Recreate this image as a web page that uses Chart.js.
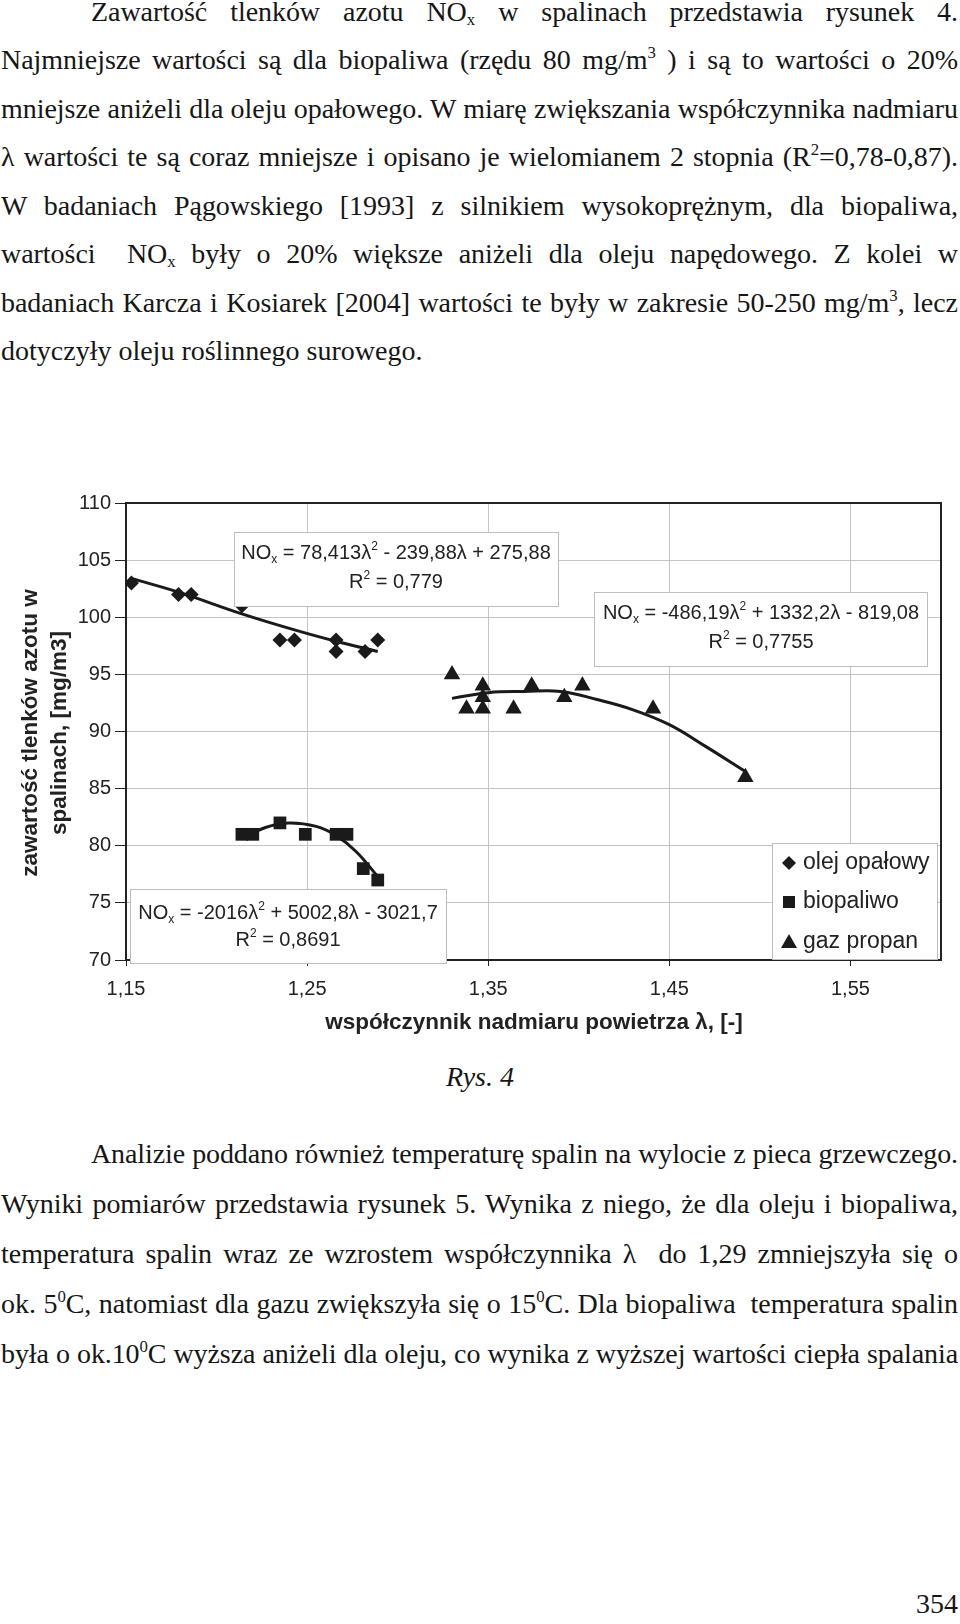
<!DOCTYPE html>
<html>
<head>
<meta charset="utf-8">
<script src="https://cdn.jsdelivr.net/npm/chart.js@4"></script>
<style>
  html, body { margin: 0; padding: 0; background: #fff; }
  body { width: 960px; height: 1624px; position: relative; overflow: hidden; }
  .ln {
    position: absolute; font-family: "Liberation Serif", serif; font-size: 28px;
    line-height: 30px; color: #161616; text-align: justify; text-align-last: justify;
  }
  .ln.left { text-align: left; text-align-last: left; }
  .ln sup { font-size: 0.6em; vertical-align: 0; position: relative; top: -0.65em; line-height: 0; }
  .ln sub { font-size: 0.6em; vertical-align: 0; position: relative; top: 0.25em; line-height: 0; }
  #noxChart { position: absolute; left: 0; top: 470px; }
</style>
</head>
<body>

<div class="ln" style="left:91px;width:867px;top:-3px">Zawartość tlenków azotu NO<sub>x</sub> w spalinach przedstawia rysunek 4.</div>
<div class="ln" style="left:1px;width:957px;top:45px">Najmniejsze wartości są dla biopaliwa (rzędu 80 mg/m<sup>3</sup> ) i są to wartości o 20%</div>
<div class="ln" style="left:1px;width:957px;top:94px">mniejsze aniżeli dla oleju opałowego. W miarę zwiększania współczynnika nadmiaru</div>
<div class="ln" style="left:1px;width:957px;top:142px">λ wartości te są coraz mniejsze i opisano je wielomianem 2 stopnia (R<sup>2</sup>=0,78-0,87).</div>
<div class="ln" style="left:1px;width:957px;top:191px">W badaniach Pągowskiego [1993] z silnikiem wysokoprężnym, dla biopaliwa,</div>
<div class="ln" style="left:1px;width:957px;top:239px">wartości &nbsp;NO<sub>x</sub> były o 20% większe aniżeli dla oleju napędowego. Z kolei w</div>
<div class="ln" style="left:1px;width:957px;top:288px">badaniach Karcza i Kosiarek [2004] wartości te były w zakresie 50-250 mg/m<sup>3</sup>, lecz</div>
<div class="ln left" style="left:1px;width:957px;top:336px">dotyczyły oleju roślinnego surowego.</div>

<canvas id="noxChart" width="960" height="580"></canvas>

<div class="ln left" style="left:0;width:960px;top:1062px;text-align:center;text-align-last:center;font-style:italic">Rys. 4</div>
<div class="ln" style="left:91px;width:867px;top:1139px">Analizie poddano również temperaturę spalin na wylocie z pieca grzewczego.</div>
<div class="ln" style="left:1px;width:957px;top:1189px">Wyniki pomiarów przedstawia rysunek 5. Wynika z niego, że dla oleju i biopaliwa,</div>
<div class="ln" style="left:1px;width:957px;top:1239px">temperatura spalin wraz ze wzrostem współczynnika λ &nbsp;do 1,29 zmniejszyła się o</div>
<div class="ln" style="left:1px;width:957px;top:1289px">ok. 5<sup>0</sup>C, natomiast dla gazu zwiększyła się o 15<sup>0</sup>C. Dla biopaliwa &nbsp;temperatura spalin</div>
<div class="ln" style="left:1px;width:957px;top:1339px">była o ok.10<sup>0</sup>C wyższa aniżeli dla oleju, co wynika z wyższej wartości ciepła spalania</div>
<div class="ln left" style="left:880px;width:78px;top:1589px;text-align:right;text-align-last:right">354</div>

<script>
// measured points - olej opałowy (diamonds)
const olejX = [1.153, 1.179, 1.186, 1.214, 1.235, 1.243, 1.266, 1.266, 1.282, 1.289];
const olejY = [103, 102, 102, 101, 98, 98, 98, 97, 97, 98];

// biopaliwo (squares)
const bioX = [1.214, 1.220, 1.235, 1.249, 1.266, 1.272, 1.281, 1.289];
const bioY = [81, 81, 82, 81, 81, 81, 78, 77];

// gaz propan (triangles)
const gazX = [1.330, 1.338, 1.347, 1.347, 1.347, 1.364, 1.374, 1.392, 1.402, 1.441, 1.492];
const gazY = [95, 92, 94, 93, 92, 92, 94, 93, 94, 92, 86];

// trend lines
const olejTrendX = [1.153, 1.179, 1.214, 1.243, 1.266, 1.289];
const olejTrendY = [103.4, 102.2, 100.3, 98.9, 97.9, 97.0];
const bioTrendX = [1.214, 1.227, 1.240, 1.255, 1.266, 1.277, 1.289];
const bioTrendY = [80.6, 81.6, 82.0, 81.7, 80.9, 79.5, 77.3];
const gazTrendX = [1.330, 1.350, 1.370, 1.390, 1.410, 1.430, 1.450, 1.470, 1.492];
const gazTrendY = [92.9, 93.4, 93.5, 93.5, 92.8, 91.9, 90.6, 88.7, 86.5];

const seriesNames = ["olej opałowy", "biopaliwo", "gaz propan"];
const xTickValues = [1.15, 1.25, 1.35, 1.45, 1.55];
const xTickLabels = ["1,15", "1,25", "1,35", "1,45", "1,55"];

const eqOlej = ["NO_x = 78,413λ^2 - 239,88λ + 275,88", "R^2 = 0,779"];
const eqGaz = ["NO_x = -486,19λ^2 + 1332,2λ - 819,08", "R^2 = 0,7755"];
const eqBio = ["NO_x = -2016λ^2 + 5002,8λ - 3021,7", "R^2 = 0,8691"];

const yTitle = ["zawartość tlenków azotu w", "spalinach, [mg/m3]"];
const xTitle = "współczynnik nadmiaru powietrza λ, [-]";

// fit page lines so they justify on one line
document.querySelectorAll(".ln").forEach(el => {
  const target = el.clientWidth;
  const s = document.createElement("span");
  s.style.whiteSpace = "nowrap";
  s.innerHTML = el.innerHTML;
  el.innerHTML = "";
  el.appendChild(s);
  const nat = s.getBoundingClientRect().width;
  if (nat > target - 2) {
    el.style.letterSpacing = ((target - 3 - nat) / s.textContent.length) + "px";
  }
  el.innerHTML = s.innerHTML;
});

const INK = "#1a1a1a";
const SANS = '"Liberation Sans", Arial, sans-serif';

function toPoints(xs, ys) {
  return xs.map((x, i) => ({ x: x, y: ys[i] }));
}

function richSegments(str) {
  const segs = [];
  let buf = "";
  for (let i = 0; i < str.length; i++) {
    const c = str[i];
    if ((c === "_" || c === "^") && i + 1 < str.length) {
      if (buf) segs.push({ t: buf });
      buf = "";
      segs.push({ t: str[i + 1], mode: c });
      i++;
    } else {
      buf += c;
    }
  }
  if (buf) segs.push({ t: buf });
  return segs;
}

function drawRich(ctx, str, cx, cy, size) {
  const segs = richSegments(str);
  const small = Math.round(size * 0.62);
  let total = 0;
  segs.forEach(s => {
    ctx.font = (s.mode ? small : size) + "px " + SANS;
    s.w = ctx.measureText(s.t).width;
    total += s.w;
  });
  let x = cx - total / 2;
  ctx.textAlign = "left";
  ctx.textBaseline = "middle";
  segs.forEach(s => {
    ctx.font = (s.mode ? small : size) + "px " + SANS;
    const dy = s.mode === "_" ? size * 0.32 : s.mode === "^" ? -size * 0.3 : 0;
    ctx.fillText(s.t, x, cy + dy);
    x += s.w;
  });
}

function drawBox(ctx, x, y, w, h) {
  ctx.fillStyle = "#fff";
  ctx.fillRect(x, y, w, h);
  ctx.strokeStyle = "#bdbdbd";
  ctx.lineWidth = 1;
  ctx.strokeRect(x + 0.5, y + 0.5, w, h);
}

function marker(ctx, kind, x, y) {
  ctx.fillStyle = INK;
  ctx.beginPath();
  if (kind === 0) {
    ctx.moveTo(x, y - 7); ctx.lineTo(x + 7, y); ctx.lineTo(x, y + 7); ctx.lineTo(x - 7, y);
  } else if (kind === 1) {
    ctx.rect(x - 6, y - 6, 12, 12);
  } else {
    ctx.moveTo(x, y - 8); ctx.lineTo(x + 8, y + 6); ctx.lineTo(x - 8, y + 6);
  }
  ctx.closePath();
  ctx.fill();
}

const extrasPlugin = {
  id: "extras",
  beforeDatasetsDraw(chart) {
    const { ctx, chartArea: a } = chart;
    ctx.save();
    ctx.strokeStyle = "#222";
    ctx.lineWidth = 2;
    ctx.beginPath();
    ctx.moveTo(a.left, a.top);
    ctx.lineTo(a.right, a.top);
    ctx.lineTo(a.right, a.bottom);
    ctx.stroke();
    ctx.restore();
  },
  afterDraw(chart) {
    const ctx = chart.ctx;
    ctx.save();

    // equation boxes
    drawBox(ctx, 234, 62, 324, 74);
    ctx.fillStyle = "#222";
    drawRich(ctx, eqOlej[0], 396, 83, 20);
    drawRich(ctx, eqOlej[1], 396, 112, 20);

    drawBox(ctx, 594, 122, 333, 74);
    ctx.fillStyle = "#222";
    drawRich(ctx, eqGaz[0], 761, 143, 20);
    drawRich(ctx, eqGaz[1], 761, 172, 20);

    drawBox(ctx, 130, 419, 316, 74);
    ctx.fillStyle = "#222";
    drawRich(ctx, eqBio[0], 288, 443, 20);
    drawRich(ctx, eqBio[1], 288, 470, 20);

    // legend
    drawBox(ctx, 772, 373, 165, 116);
    const rows = [393, 432, 472];
    seriesNames.forEach((name, i) => {
      marker(ctx, i, 789, rows[i]);
      ctx.fillStyle = "#222";
      ctx.font = "23px " + SANS;
      ctx.textAlign = "left";
      ctx.textBaseline = "middle";
      ctx.fillText(name, 803, rows[i]);
    });

    // axis titles
    ctx.fillStyle = "#222";
    ctx.font = "bold 22.5px " + SANS;
    ctx.textAlign = "center";
    ctx.textBaseline = "middle";
    ctx.fillText(xTitle, 534, 553);
    [31, 60].forEach((lx, i) => {
      ctx.save();
      ctx.translate(lx, 263);
      ctx.rotate(-Math.PI / 2);
      ctx.fillText(yTitle[i], 0, 0);
      ctx.restore();
    });
    ctx.restore();
  }
};

const trendStyle = {
  showLine: true,
  borderColor: INK,
  borderWidth: 3,
  pointRadius: 0,
  tension: 0.4,
  fill: false
};

new Chart(document.getElementById("noxChart"), {
  type: "scatter",
  data: {
    datasets: [
      { label: seriesNames[0], data: toPoints(olejX, olejY), pointStyle: "rectRot", pointRadius: 7.5, backgroundColor: INK, borderColor: INK, borderWidth: 0 },
      { label: seriesNames[1], data: toPoints(bioX, bioY), pointStyle: "rect", pointRadius: 9, backgroundColor: INK, borderColor: INK, borderWidth: 0 },
      { label: seriesNames[2], data: toPoints(gazX, gazY), pointStyle: "triangle", pointRadius: 9.5, backgroundColor: INK, borderColor: INK, borderWidth: 0 },
      Object.assign({ data: toPoints(olejTrendX, olejTrendY) }, trendStyle),
      Object.assign({ data: toPoints(bioTrendX, bioTrendY) }, trendStyle),
      Object.assign({ data: toPoints(gazTrendX, gazTrendY) }, trendStyle)
    ]
  },
  options: {
    responsive: false,
    animation: false,
    devicePixelRatio: 1,
    layout: { padding: { top: 33, right: 19, left: 0, bottom: 0 } },
    plugins: {
      legend: { display: false },
      tooltip: { enabled: false }
    },
    scales: {
      x: {
        type: "linear",
        min: 1.15,
        max: 1.6,
        afterBuildTicks: scale => { scale.ticks = xTickValues.map(v => ({ value: v })); },
        afterFit: scale => { scale.height = 90; },
        ticks: {
          callback: (value, index) => xTickLabels[index],
          color: "#222",
          font: { family: SANS, size: 20 },
          padding: 11,
          maxRotation: 0
        },
        grid: { color: "#c4c4c4", lineWidth: 1, tickColor: "#222", tickLength: 6 },
        border: { display: true, color: "#222", width: 2 }
      },
      y: {
        min: 70,
        max: 110,
        afterFit: scale => { scale.width = 126; },
        ticks: {
          stepSize: 5,
          color: "#222",
          font: { family: SANS, size: 20 },
          padding: 4
        },
        grid: { color: "#c4c4c4", lineWidth: 1, tickColor: "#222", tickLength: 11 },
        border: { display: true, color: "#222", width: 2 }
      }
    }
  },
  plugins: [extrasPlugin]
});
</script>
</body>
</html>
